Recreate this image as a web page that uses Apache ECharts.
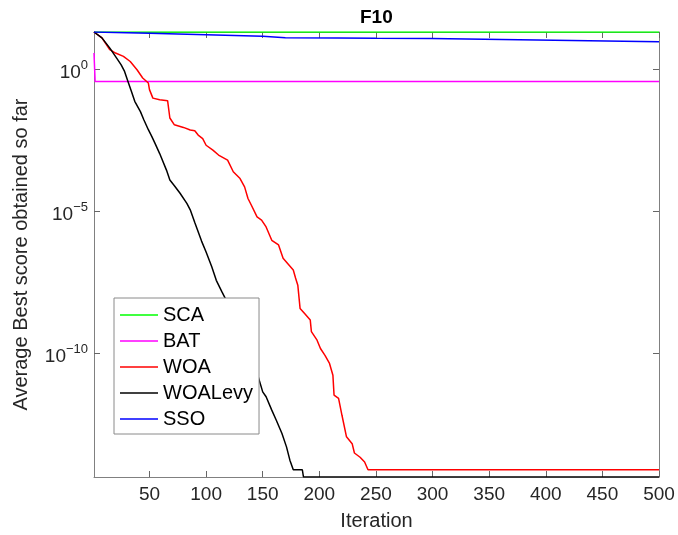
<!DOCTYPE html>
<html>
<head>
<meta charset="utf-8">
<script src="https://cdn.jsdelivr.net/npm/echarts@6/dist/echarts.min.js"></script>
<style>
  html, body { margin: 0; padding: 0; background: #fff; }
  #chart { width: 678px; height: 535px; }
</style>
</head>
<body>
<div id="chart"></div>
<script>
// Convergence curves on benchmark F10: [iteration, average best score]
const seriesNames = ['SCA', 'BAT', 'WOA', 'WOALevy', 'SSO'];

const scaData = [[1, 20.3], [500, 20.3]];

const batData = [[1, 3.7], [2, 0.37], [500, 0.37]];

const woaData = [
  [1, 20.3], [8, 12.6], [15, 4.83], [20, 3.69], [27, 2.82], [33, 1.86],
  [39, 0.955], [44, 0.49], [49, 0.324], [50, 0.19], [53, 0.0955], [59, 0.0832],
  [66, 0.0776], [68, 0.0191], [72, 0.011], [80, 8.9e-3], [86, 7.2e-3], [90, 6.8e-3],
  [93, 4.8e-3], [97, 3.6e-3], [100, 2.1e-3], [106, 1.41e-3], [111, 9.5e-4],
  [119, 6.3e-4], [124, 2.45e-4], [130, 1.41e-4], [134, 7.2e-5], [137, 2.8e-5],
  [140, 1.62e-5], [145, 6.3e-6], [149, 4.9e-6], [153, 2.8e-6], [158, 9.5e-7],
  [164, 6.5e-7], [168, 2.2e-7], [172, 1.45e-7], [177, 8.5e-8], [179, 4.5e-8],
  [181, 2.5e-8], [183, 3.8e-9], [187, 2.5e-9], [192, 1.48e-9], [193, 5.8e-10],
  [198, 2.9e-10], [201, 1.48e-10], [205, 8.5e-11], [209, 4.4e-11], [212, 1.7e-11],
  [213, 3.4e-12], [217, 2.6e-12], [220, 6.6e-13], [224, 1.15e-13], [229, 6.6e-14],
  [231, 3.1e-14], [236, 2.2e-14], [240, 1.5e-14], [243, 7.99e-15], [500, 7.99e-15]
];

const woaLevyData = [
  [1, 20.3], [8, 12.6], [15, 5.5], [21, 2.45], [25, 1.41], [28, 0.83], [31, 0.37],
  [34, 0.166], [37, 0.074], [42, 0.032], [45, 0.0166], [49, 7.4e-3], [52, 4.3e-3],
  [55, 2.4e-3], [59, 1.07e-3], [65, 2.8e-4], [68, 1.26e-4], [72, 7.9e-5],
  [77, 4.3e-5], [83, 1.9e-5], [86, 1.12e-5], [90, 4.0e-6], [96, 8.9e-7],
  [100, 3.7e-7], [105, 1.12e-7], [109, 3.7e-8], [114, 1.45e-8], [120, 5.0e-9],
  [126, 1.6e-9], [132, 4.5e-10], [138, 1.26e-10], [144, 2.8e-11], [150, 4.4e-12],
  [153, 2.95e-12], [158, 1.0e-12], [162, 4.4e-13], [167, 1.5e-13], [171, 5.1e-14],
  [174, 1.74e-14], [177, 7.99e-15], [185, 7.99e-15], [186, 4.44e-15], [500, 4.44e-15]
];

const ssoData = [
  [1, 20.3], [30, 19.0], [50, 18.2], [100, 16.2], [150, 14.3], [170, 12.8],
  [216, 12.6], [250, 12.2], [299, 12.0], [300, 11.2], [361, 11.0], [362, 10.4],
  [423, 10.1], [424, 9.55], [484, 9.4], [500, 9.2]
];

const xTicks = [50, 100, 150, 200, 250, 300, 350, 400, 450, 500];
const yTicks = [1e-10, 1e-5, 1];

const colors = ['#00ff00', '#ff00ff', '#ff0000', '#000000', '#0000ff'];
const allData = [scaData, batData, woaData, woaLevyData, ssoData];

const FONT = '"Liberation Sans", Arial, Helvetica, sans-serif';
const AXIS_GRAY = '#808080';
const TEXT = '#262626';

const xRange = { min: 1, max: 500 };
const yRange = { min: 4.44e-15, max: 20.3 };

function expLabel(v) {
  const e = Math.round(Math.log10(v));
  const s = e < 0 ? '\u2212' + (-e) : String(e);
  return '{b|10}{s|' + s + '}';
}

const chart = echarts.init(document.getElementById('chart'), null, { renderer: 'canvas' });

const commonX = {
  type: 'value',
  min: xRange.min,
  max: xRange.max,
  splitLine: { show: false },
  axisLine: { show: true, lineStyle: { color: AXIS_GRAY, width: 1 } },
  axisTick: { show: true, inside: true, length: 6, customValues: xTicks,
              lineStyle: { color: '#666', width: 1 } }
};
const commonY = {
  type: 'log',
  logBase: 10,
  min: yRange.min,
  max: yRange.max,
  splitLine: { show: false },
  minorTick: { show: false },
  axisLine: { show: true, lineStyle: { color: AXIS_GRAY, width: 1 } },
  axisTick: { show: true, inside: true, length: 6, customValues: yTicks,
              lineStyle: { color: '#666', width: 1 } }
};

chart.setOption({
  animation: false,
  backgroundColor: '#fff',
  title: {
    text: 'F10',
    left: 360,
    top: 8,
    padding: 0,
    textStyle: { fontFamily: FONT, fontSize: 19, fontWeight: 'bold', color: '#000' }
  },
  grid: { left: 94, right: 19, top: 32, bottom: 58, outerBoundsMode: 'none' },
  legend: {
    orient: 'vertical',
    left: 114,
    top: 298,
    padding: [7, 6, 5, 6],
    itemGap: 6,
    itemWidth: 38,
    itemHeight: 1.5,
    icon: 'rect',
    backgroundColor: '#fff',
    borderColor: '#8a8a8a',
    borderWidth: 1,
    borderRadius: 0,
    data: seriesNames,
    textStyle: { fontFamily: FONT, fontSize: 20, lineHeight: 20, color: '#000' }
  },
  xAxis: [
    Object.assign({}, commonX, {
      position: 'bottom',
      name: 'Iteration',
      nameLocation: 'middle',
      nameGap: 34,
      nameTextStyle: { fontFamily: FONT, fontSize: 20, color: TEXT },
      axisLabel: { show: true, customValues: xTicks, margin: 8,
                   fontFamily: FONT, fontSize: 19, color: TEXT }
    }),
    Object.assign({}, commonX, {
      position: 'top',
      axisLabel: { show: false }
    })
  ],
  yAxis: [
    Object.assign({}, commonY, {
      position: 'left',
      name: 'Average Best score obtained so far',
      nameLocation: 'middle',
      nameGap: 63,
      nameTextStyle: { fontFamily: FONT, fontSize: 20, color: TEXT },
      axisLabel: {
        show: true,
        customValues: yTicks,
        margin: 6,
        padding: [7, 0, 0, 0],
        formatter: expLabel,
        rich: {
          b: { fontFamily: FONT, fontSize: 19, lineHeight: 28, color: TEXT },
          s: { fontFamily: FONT, fontSize: 13, lineHeight: 14, verticalAlign: 'top', color: TEXT }
        }
      }
    }),
    Object.assign({}, commonY, {
      position: 'right',
      axisLabel: { show: false }
    })
  ],
  series: seriesNames.map((name, i) => ({
    name: name,
    type: 'line',
    xAxisIndex: 0,
    yAxisIndex: 0,
    data: allData[i],
    symbol: 'none',
    showSymbol: false,
    smooth: false,
    lineStyle: { color: colors[i], width: 1.5 },
    itemStyle: { color: colors[i] },
    z: 2
  }))
});
</script>
</body>
</html>
